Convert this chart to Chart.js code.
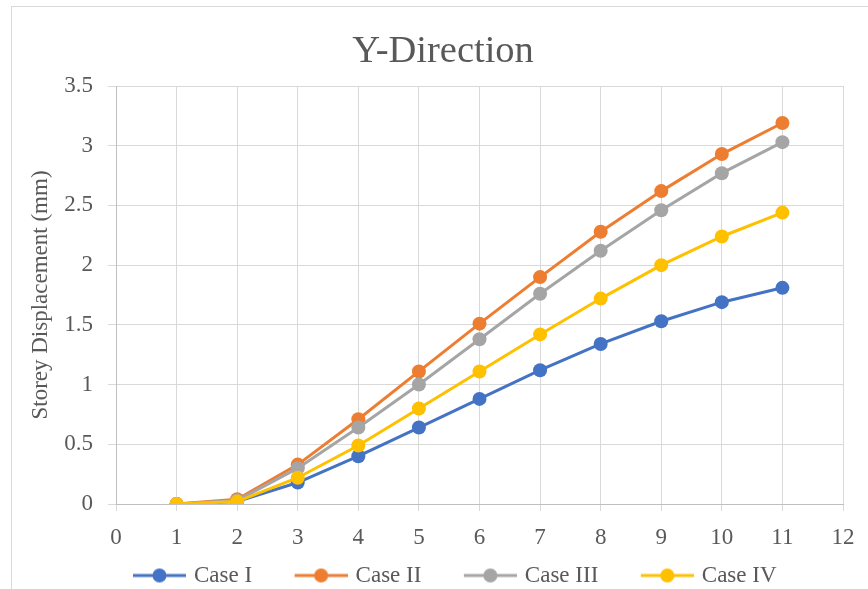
<!DOCTYPE html>
<html>
<head>
<meta charset="utf-8">
<title>Y-Direction</title>
<script src="https://cdn.jsdelivr.net/npm/chart.js@4/dist/chart.umd.min.js"></script>
<style>
  html, body { margin: 0; padding: 0; background: #ffffff; overflow: hidden; width: 868px; height: 589px; }
  #frame { position: absolute; left: 11px; top: 6px; width: 900px; height: 700px; border: 1px solid #d9d9d9; box-sizing: border-box; }
  #chart { position: absolute; left: 12px; top: 7px; }
</style>
</head>
<body>
<div id="frame"></div>
<canvas id="chart" width="862" height="590"></canvas>
<script>
// Storey numbers along the x axis
const storeys = [1, 2, 3, 4, 5, 6, 7, 8, 9, 10, 11];

// Storey displacement (mm) for each case
const caseI   = [0, 0.02, 0.18, 0.40, 0.64, 0.88, 1.12, 1.34, 1.53, 1.69, 1.81];
const caseII  = [0, 0.04, 0.33, 0.71, 1.11, 1.51, 1.90, 2.28, 2.62, 2.93, 3.19];
const caseIII = [0, 0.03, 0.30, 0.64, 1.00, 1.38, 1.76, 2.12, 2.46, 2.77, 3.03];
const caseIV  = [0, 0.02, 0.22, 0.49, 0.80, 1.11, 1.42, 1.72, 2.00, 2.24, 2.44];

const seriesNames = ['Case I', 'Case II', 'Case III', 'Case IV'];
const seriesValues = [caseI, caseII, caseIII, caseIV];
const seriesColors = ['#4472C4', '#ED7D31', '#A5A5A5', '#FFC000'];

const FONT = "'Liberation Serif', 'Times New Roman', serif";
const TEXT = '#595959';

// Legend icon: a short line with a round marker in the middle,
// preceded by some blank room that spaces the entries apart
const ICON_W = 80, ICON_LINE = 53;
function makeLegendIcon(color) {
  const c = document.createElement('canvas');
  c.width = ICON_W; c.height = 16;
  const g = c.getContext('2d');
  const x0 = ICON_W - ICON_LINE;
  g.strokeStyle = color; g.lineWidth = 3;
  g.beginPath(); g.moveTo(x0, 8); g.lineTo(ICON_W, 8); g.stroke();
  g.fillStyle = color;
  g.beginPath(); g.arc(x0 + ICON_LINE / 2, 8, 7, 0, Math.PI * 2); g.fill();
  return c;
}
const legendIcons = seriesColors.map(makeLegendIcon);

const datasets = seriesNames.map((name, i) => ({
  label: name,
  data: storeys.map((s, k) => ({ x: s, y: seriesValues[i][k] })),
  borderColor: seriesColors[i],
  backgroundColor: seriesColors[i],
  borderWidth: 3,
  pointRadius: 7,
  pointHoverRadius: 7,
  pointBorderWidth: 0,
  tension: 0,
  order: seriesNames.length - i   // later cases are drawn on top
}));

new Chart(document.getElementById('chart'), {
  type: 'line',
  data: { datasets },
  options: {
    responsive: false,
    animation: false,
    layout: { padding: { left: 31, right: 31, top: 0, bottom: 0 } },
    scales: {
      x: {
        type: 'linear',
        min: 0, max: 12,
        ticks: { stepSize: 1, font: { family: FONT, size: 23 }, color: TEXT, padding: 13, maxRotation: 0, autoSkip: false },
        grid: { color: '#d9d9d9', lineWidth: 1, tickLength: 7, tickColor: '#d9d9d9' },
        border: { color: '#bfbfbf', width: 1 },
        afterFit: (s) => { s.height = 41; }
      },
      y: {
        min: 0, max: 3.5,
        ticks: { stepSize: 0.5, font: { family: FONT, size: 23 }, color: TEXT, padding: 15,
                 callback: (v) => String(Number(v.toFixed(2))) },
        grid: { color: '#d9d9d9', lineWidth: 1, tickLength: 8, tickColor: '#d9d9d9' },
        border: { color: '#bfbfbf', width: 1 },
        title: { display: true, text: 'Storey Displacement (mm)', font: { family: FONT, size: 23 }, color: TEXT, padding: { top: -16.3, bottom: 0 } },
        afterFit: (s) => { s.width = 73; }
      }
    },
    plugins: {
      title: {
        display: true, text: 'Y-Direction',
        font: { family: FONT, size: 38.5, weight: 'normal' }, color: TEXT,
        padding: { top: 21.5, bottom: 11.3 }
      },
      legend: {
        position: 'bottom',
        labels: {
          usePointStyle: true,
          pointStyleWidth: 73,
          padding: 19,
          font: { family: FONT, size: 23 },
          color: TEXT,
          sort: (a, b) => a.datasetIndex - b.datasetIndex,
          generateLabels: (chart) => {
            const items = Chart.defaults.plugins.legend.labels.generateLabels(chart);
            items.forEach((it) => { it.pointStyle = legendIcons[it.datasetIndex]; });
            return items;
          }
        }
      },
      tooltip: { enabled: false }
    }
  }
});
</script>
</body>
</html>
